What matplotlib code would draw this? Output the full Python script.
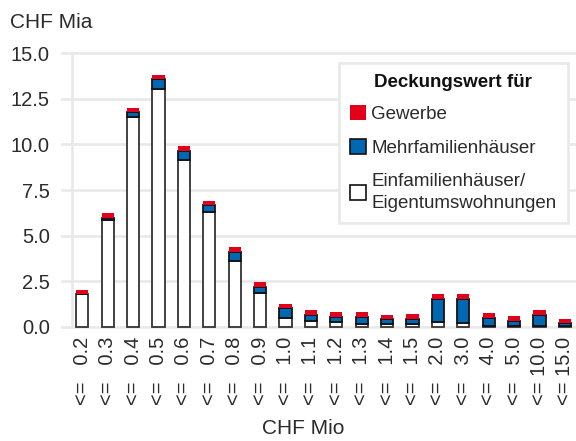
import matplotlib
matplotlib.use("Agg")
import matplotlib.pyplot as plt
from matplotlib.patches import Patch
import numpy as np

categories = ["0.2", "0.3", "0.4", "0.5", "0.6", "0.7", "0.8", "0.9", "1.0", "1.1",
              "1.2", "1.3", "1.4", "1.5", "2.0", "3.0", "4.0", "5.0", "10.0", "15.0"]
efh = [1.80, 5.86, 11.49, 13.05, 9.15, 6.28, 3.61, 1.83, 0.46, 0.31,
       0.26, 0.17, 0.17, 0.15, 0.28, 0.18, 0.02, 0.02, 0.02, 0.02]
mfh = [0.00, 0.12, 0.29, 0.53, 0.51, 0.42, 0.51, 0.37, 0.55, 0.33,
       0.26, 0.35, 0.23, 0.27, 1.26, 1.36, 0.47, 0.29, 0.62, 0.18]
gew = [0.21, 0.24, 0.23, 0.22, 0.26, 0.22, 0.24, 0.24, 0.24, 0.28,
       0.27, 0.27, 0.26, 0.26, 0.25, 0.25, 0.26, 0.26, 0.26, 0.24]

series_labels = ["Gewerbe", "Mehrfamilienhäuser", "Einfamilienhäuser/\nEigentumswohnungen"]
legend_title = "Deckungswert für"
yticks = [0.0, 2.5, 5.0, 7.5, 10.0, 12.5, 15.0]

RED = "#e2001a"
BLUE = "#0068b3"
TXT = "#2b2b2b"
GRID = "#e8e8e8"

plt.rcParams["font.family"] = ["Liberation Sans", "DejaVu Sans"]

fig = plt.figure(figsize=(5.76, 4.41), dpi=100)
W, H = 576, 441
x0, x1 = 61, 576
ytop, ybot = 51.5, 328.5
ax = fig.add_axes([x0 / W, (H - ybot) / H, (x1 - x0) / W, (ybot - ytop) / H])

x = np.arange(len(categories))
efh_a = np.array(efh)
mfh_a = np.array(mfh)
gew_a = np.array(gew)
bw = 0.48

ax.bar(x, efh_a, bw, color="white", edgecolor="#333333", linewidth=1.3, zorder=3)
ax.bar(x, mfh_a, bw, bottom=efh_a, color=BLUE, edgecolor="#111111", linewidth=1.3, zorder=3)
ax.bar(x, gew_a, bw, bottom=efh_a + mfh_a, color=RED, edgecolor="none", linewidth=0, zorder=4)

ax.set_xlim(-0.84, 19.44)
ax.set_ylim(-0.1, 15.1)
ax.set_yticks(yticks)
ax.set_yticklabels([f"{v:.1f}" for v in yticks])
ax.yaxis.grid(True, color=GRID, linewidth=1.8, zorder=0)
ax.axvline(-0.42, ymin=0, ymax=(15 + 0.1) / 15.2, color=GRID, linewidth=1.8, zorder=1)
for s in ax.spines.values():
    s.set_visible(False)

xlabels = []
for c in categories:
    pad = " " * (1 + 2 * (4 - len(c)))
    xlabels.append("<=" + pad + c)
ax.set_xticks(x)
ax.set_xticklabels(xlabels, rotation=90, va="top", ha="center")
ax.tick_params(axis="both", length=0, labelsize=14.5, colors=TXT)
ax.tick_params(axis="y", pad=8)
ax.tick_params(axis="x", pad=6)

fig.text(10 / W, (H - 28) / H, "CHF Mia", fontsize=15, color=TXT, va="baseline", ha="left")
fig.text(303 / W, (H - 429) / H, "CHF Mio", fontsize=15, color=TXT, va="center", ha="center")

handles = [
    Patch(facecolor=RED, edgecolor="none"),
    Patch(facecolor=BLUE, edgecolor="#111111", linewidth=1.2),
    Patch(facecolor="white", edgecolor="#111111", linewidth=1.2),
]
leg = ax.legend(handles, series_labels, title=legend_title, loc="upper right",
                bbox_to_anchor=((568 - x0) / (x1 - x0), 1 - (63 - ytop) / (ybot - ytop)),
                fontsize=13.5, title_fontproperties={"weight": "bold", "size": 13.5},
                frameon=True, fancybox=False, framealpha=1, edgecolor=GRID,
                handlelength=0.85, handleheight=0.85, handletextpad=0.3,
                borderpad=0.6, labelspacing=0.85, borderaxespad=0)
leg.get_frame().set_linewidth(1.8)
for t in leg.get_texts():
    t.set_color(TXT)
    t.set_linespacing(1.35)
leg.get_title().set_color("#111111")
leg._legend_box.sep = 10
leg.set_zorder(10)

fig.savefig("out.png", dpi=100)
